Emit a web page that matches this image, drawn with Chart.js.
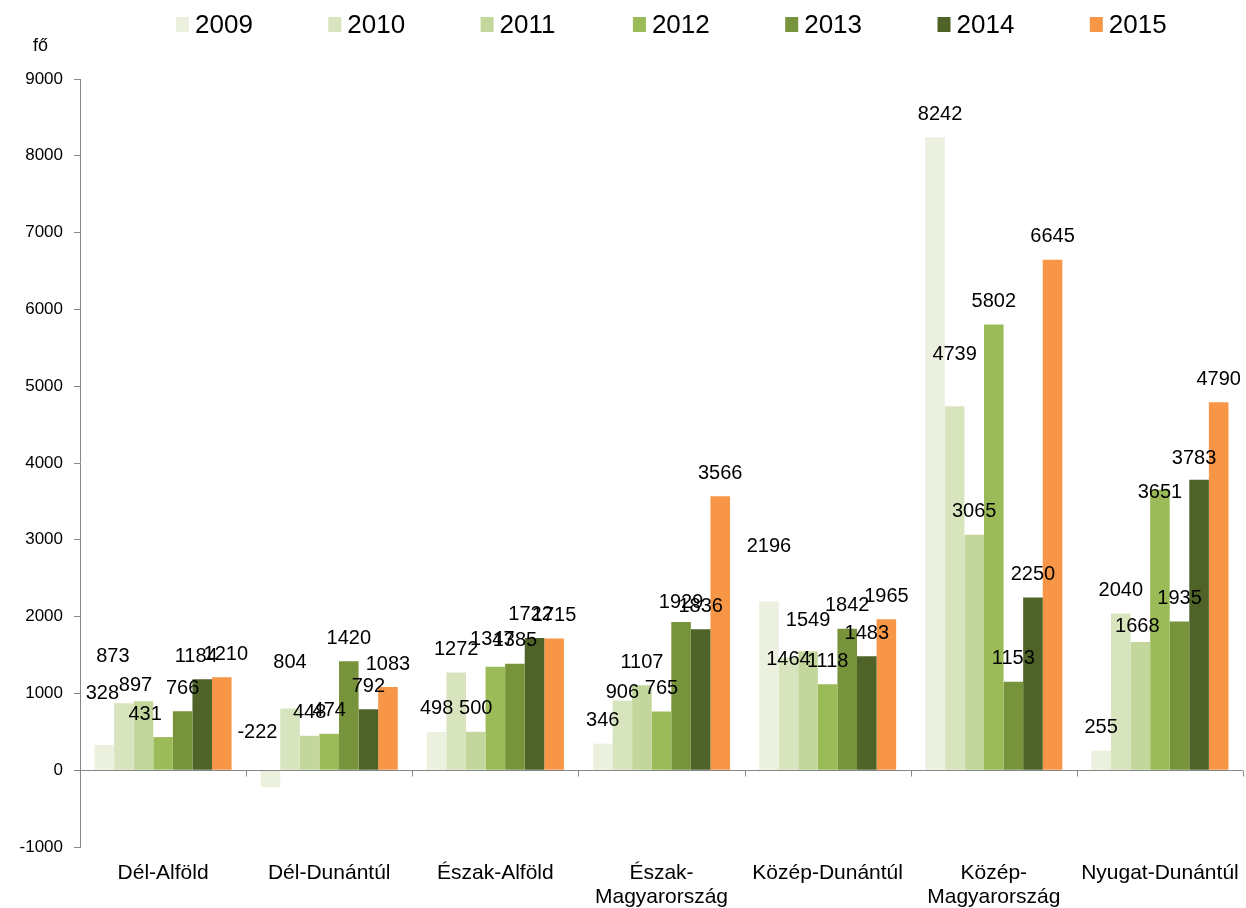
<!DOCTYPE html>
<html>
<head>
<meta charset="utf-8">
<script src="https://cdn.jsdelivr.net/npm/chart.js@4.4.0/dist/chart.umd.min.js"></script>
<style>
  html, body { margin: 0; padding: 0; background: #fff; }
</style>
</head>
<body>
<canvas id="myChart" width="1246" height="908"></canvas>
<script>
// categories and values
const regions = ['Dél-Alföld', 'Dél-Dunántúl', 'Észak-Alföld', ['Észak-', 'Magyarország'],
  'Közép-Dunántúl', ['Közép-', 'Magyarország'], 'Nyugat-Dunántúl'];
const years = ['2009', '2010', '2011', '2012', '2013', '2014', '2015'];
const v2009 = [328, -222, 498, 346, 2196, 8242, 255];
const v2010 = [873, 804, 1272, 906, 1464, 4739, 2040];
const v2011 = [897, 448, 500, 1107, 1549, 3065, 1668];
const v2012 = [431, 474, 1347, 765, 1118, 5802, 3651];
const v2013 = [766, 1420, 1385, 1929, 1842, 1153, 1935];
const v2014 = [1184, 792, 1722, 1836, 1483, 2250, 3783];
const v2015 = [1210, 1083, 1715, 3566, 1965, 6645, 4790];
const yMin = -1000, yMax = 9000, yStep = 1000;
const unitLabel = 'fő';

const colors = ['#EBF1DE', '#D7E4BD', '#C3D69B', '#9BBB59', '#77933C', '#4F6228', '#F79646'];
const FONT = "'Liberation Sans', Arial, sans-serif";

// label nudges (dx, dy in px) where the original labels sit off the default spot
const labelNudge = {
  '0,0': [-2, -29], '1,0': [-11, -24], '2,0': [-8, 7], '3,0': [-18, 0], '5,0': [-6, 0], '6,0': [4, 0],
  '0,1': [-13, -15], '1,1': [0, -23],
  '3,2': [-3, -4], '5,2': [-4, 0],
  '1,3': [0, 15], '4,3': [0, 3],
  '0,4': [0, -32], '1,4': [0, 25], '2,4': [0, -8],
  '0,5': [5, 0], '1,5': [0, -29],
  '2,6': [-3, 7], '3,6': [0, 26], '5,6': [-5, 2]
};

const series = [v2009, v2010, v2011, v2012, v2013, v2014, v2015];

const decor = {
  id: 'decor',
  afterDatasetsDraw(chart) {
    const ctx = chart.ctx;
    const area = chart.chartArea;
    const x = chart.scales.x, y = chart.scales.y;
    const zeroY = Math.round(y.getPixelForValue(0)) + 0.5;

    // zero line with category tick marks
    ctx.save();
    ctx.strokeStyle = '#868686';
    ctx.lineWidth = 1;
    ctx.beginPath();
    ctx.moveTo(area.left, zeroY);
    ctx.lineTo(area.right, zeroY);
    const step = (area.right - area.left) / regions.length;
    for (let i = 0; i <= regions.length; i++) {
      const px = Math.round(x.getPixelForValue(i) - step / 2) + 0.5;
      ctx.moveTo(px, zeroY);
      ctx.lineTo(px, zeroY + 6);
    }
    ctx.stroke();

    // data labels
    ctx.fillStyle = '#000';
    ctx.font = '20px ' + FONT;
    ctx.textAlign = 'center';
    ctx.textBaseline = 'middle';
    chart.data.datasets.forEach((ds, di) => {
      const meta = chart.getDatasetMeta(di);
      meta.data.forEach((bar, ci) => {
        const n = labelNudge[di + ',' + ci] || [0, 0];
        const anchor = Math.min(bar.y, bar.base);
        ctx.fillText(String(ds.data[ci]), bar.x + n[0], anchor - 23 + n[1]);
      });
    });

    // legend
    ctx.font = '26px ' + FONT;
    ctx.textAlign = 'left';
    ctx.textBaseline = 'alphabetic';
    chart.data.datasets.forEach((ds, di) => {
      const lx = 176 + di * 152.3;
      ctx.fillStyle = ds.backgroundColor;
      ctx.fillRect(lx, 17, 13, 15);
      ctx.fillStyle = '#000';
      ctx.fillText(ds.label, lx + 19, 33);
    });

    // unit
    ctx.font = '18px ' + FONT;
    ctx.fillText(unitLabel, 33, 51);
    ctx.restore();
  }
};

new Chart(document.getElementById('myChart'), {
  type: 'bar',
  data: {
    labels: regions,
    datasets: years.map((yr, i) => ({
      label: yr,
      data: series[i],
      backgroundColor: colors[i],
      borderWidth: 0,
      categoryPercentage: 0.825,
      barPercentage: 1
    }))
  },
  options: {
    responsive: false,
    animation: false,
    devicePixelRatio: 1,
    layout: { padding: { top: 79, right: 3, left: 0, bottom: 0 } },
    plugins: {
      legend: { display: false },
      tooltip: { enabled: false }
    },
    scales: {
      x: {
        grid: { display: false },
        border: { display: false },
        ticks: { color: '#000', font: { family: FONT, size: 21, lineHeight: 1.15 }, padding: 6, maxRotation: 0, autoSkip: false },
        afterFit(scale) { scale.height = 61; }
      },
      y: {
        min: yMin,
        max: yMax,
        grid: { drawOnChartArea: false, drawTicks: true, tickLength: 6, color: '#868686' },
        border: { display: true, color: '#868686' },
        ticks: { stepSize: yStep, color: '#000', font: { family: FONT, size: 17 }, padding: 11, callback: v => String(v) },
        afterFit(scale) { scale.width = 80; }
      }
    }
  },
  plugins: [decor]
});
</script>
</body>
</html>
